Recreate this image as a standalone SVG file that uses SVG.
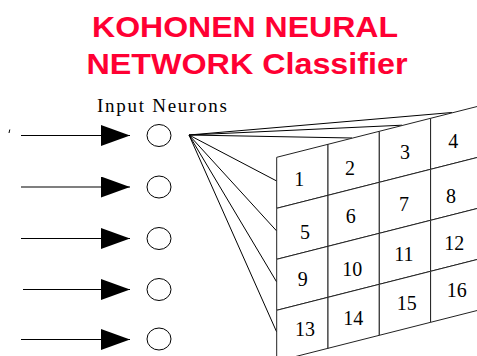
<svg xmlns="http://www.w3.org/2000/svg" width="477" height="356" viewBox="0 0 477 356">
<style>
.title{font-family:"Liberation Sans",Arial,sans-serif;font-weight:bold;font-size:30px;fill:#ff0033;text-anchor:middle}
.lbl{font-family:"Liberation Serif","Times New Roman",serif;font-size:19px;fill:#000}
.num{font-family:"Liberation Serif","Times New Roman",serif;font-size:20px;fill:#000;text-anchor:middle}
.cell{fill:#fff;stroke:#222;stroke-width:1}
.neuron{fill:#fff;stroke:#000;stroke-width:1}
.arrow{stroke:#000;stroke-width:1.2;fill:none;marker-end:url(#ah)}
.fan{stroke:#000;stroke-width:1;fill:none}
</style>
<defs>
<marker id="ah" markerUnits="userSpaceOnUse" markerWidth="30" markerHeight="22" refX="29" refY="10.5" orient="auto" viewBox="0 0 30 22">
<path d="M0,0 L29,10.5 L0,21 Z" fill="#000"/>
</marker>
</defs>
<rect width="477" height="356" fill="#fff"/>
<g id="title">
<text class="title" x="245" y="36.7" textLength="306" lengthAdjust="spacingAndGlyphs">KOHONEN NEURAL</text>
<text class="title" x="247" y="74" textLength="321" lengthAdjust="spacingAndGlyphs">NETWORK Classifier</text>
</g>
<text class="lbl" x="97" y="112" textLength="130" lengthAdjust="spacing">Input Neurons</text>
<path d="M9.8,129.5 L9,133" stroke="#000" stroke-width="1"/>
<g id="connectors">
<line class="arrow" x1="21" y1="135.5" x2="130" y2="135.5"/>
<line class="arrow" x1="21" y1="187" x2="130" y2="187"/>
<line class="arrow" x1="21" y1="238.5" x2="130" y2="238.5"/>
<line class="arrow" x1="23" y1="289.5" x2="130" y2="289.5"/>
<line class="arrow" x1="21" y1="339.5" x2="130" y2="339.5"/>
<line class="fan" x1="189" y1="135" x2="352" y2="138"/>
<line class="fan" x1="189" y1="135" x2="402" y2="125.2"/>
<line class="fan" x1="189" y1="135" x2="452" y2="112.5"/>
<line class="fan" x1="189" y1="135" x2="276.7" y2="181"/>
<line class="fan" x1="189" y1="135" x2="276.7" y2="231"/>
<line class="fan" x1="189" y1="135" x2="276.7" y2="282"/>
<line class="fan" x1="189" y1="135" x2="276.7" y2="332"/>
</g>
<g id="input1"><ellipse class="neuron" cx="159" cy="135.5" rx="12" ry="11"/></g>
<g id="input2"><ellipse class="neuron" cx="159" cy="187" rx="12" ry="11"/></g>
<g id="input3"><ellipse class="neuron" cx="159" cy="238.5" rx="12" ry="11"/></g>
<g id="input4"><ellipse class="neuron" cx="159" cy="289.5" rx="12" ry="11"/></g>
<g id="input5"><ellipse class="neuron" cx="159" cy="339" rx="12" ry="11"/></g>
<g id="out1"><polygon class="cell" points="276.7,157.3 328,144.3 328,195.3 276.7,208.3"/><text class="num" x="299.3" y="186">1</text></g>
<g id="out2"><polygon class="cell" points="328,144.3 379.3,131.3 379.3,182.3 328,195.3"/><text class="num" x="350" y="174.7">2</text></g>
<g id="out3"><polygon class="cell" points="379.3,131.3 430.6,118.3 430.6,169.3 379.3,182.3"/><text class="num" x="405" y="158.7">3</text></g>
<g id="out4"><polygon class="cell" points="430.6,118.3 481.9,105.3 481.9,156.3 430.6,169.3"/><text class="num" x="453.3" y="147.7">4</text></g>
<g id="out5"><polygon class="cell" points="276.7,208.3 328,195.3 328,246.3 276.7,259.3"/><text class="num" x="305" y="239.3">5</text></g>
<g id="out6"><polygon class="cell" points="328,195.3 379.3,182.3 379.3,233.3 328,246.3"/><text class="num" x="350.7" y="223">6</text></g>
<g id="out7"><polygon class="cell" points="379.3,182.3 430.6,169.3 430.6,220.3 379.3,233.3"/><text class="num" x="404" y="211">7</text></g>
<g id="out8"><polygon class="cell" points="430.6,169.3 481.9,156.3 481.9,207.3 430.6,220.3"/><text class="num" x="451" y="202.7">8</text></g>
<g id="out9"><polygon class="cell" points="276.7,259.3 328,246.3 328,297.3 276.7,310.3"/><text class="num" x="302.7" y="286.3">9</text></g>
<g id="out10"><polygon class="cell" points="328,246.3 379.3,233.3 379.3,284.3 328,297.3"/><text class="num" x="352.3" y="276.3">10</text></g>
<g id="out11"><polygon class="cell" points="379.3,233.3 430.6,220.3 430.6,271.3 379.3,284.3"/><text class="num" x="404" y="261">11</text></g>
<g id="out12"><polygon class="cell" points="430.6,220.3 481.9,207.3 481.9,258.3 430.6,271.3"/><text class="num" x="454.3" y="249.7">12</text></g>
<g id="out13"><polygon class="cell" points="276.7,310.3 328,297.3 328,348.3 276.7,361.3"/><text class="num" x="305" y="336.3">13</text></g>
<g id="out14"><polygon class="cell" points="328,297.3 379.3,284.3 379.3,335.3 328,348.3"/><text class="num" x="353.3" y="325.3">14</text></g>
<g id="out15"><polygon class="cell" points="379.3,284.3 430.6,271.3 430.6,322.3 379.3,335.3"/><text class="num" x="406.7" y="309.7">15</text></g>
<g id="out16"><polygon class="cell" points="430.6,271.3 481.9,258.3 481.9,309.3 430.6,322.3"/><text class="num" x="456.7" y="297">16</text></g>
</svg>
